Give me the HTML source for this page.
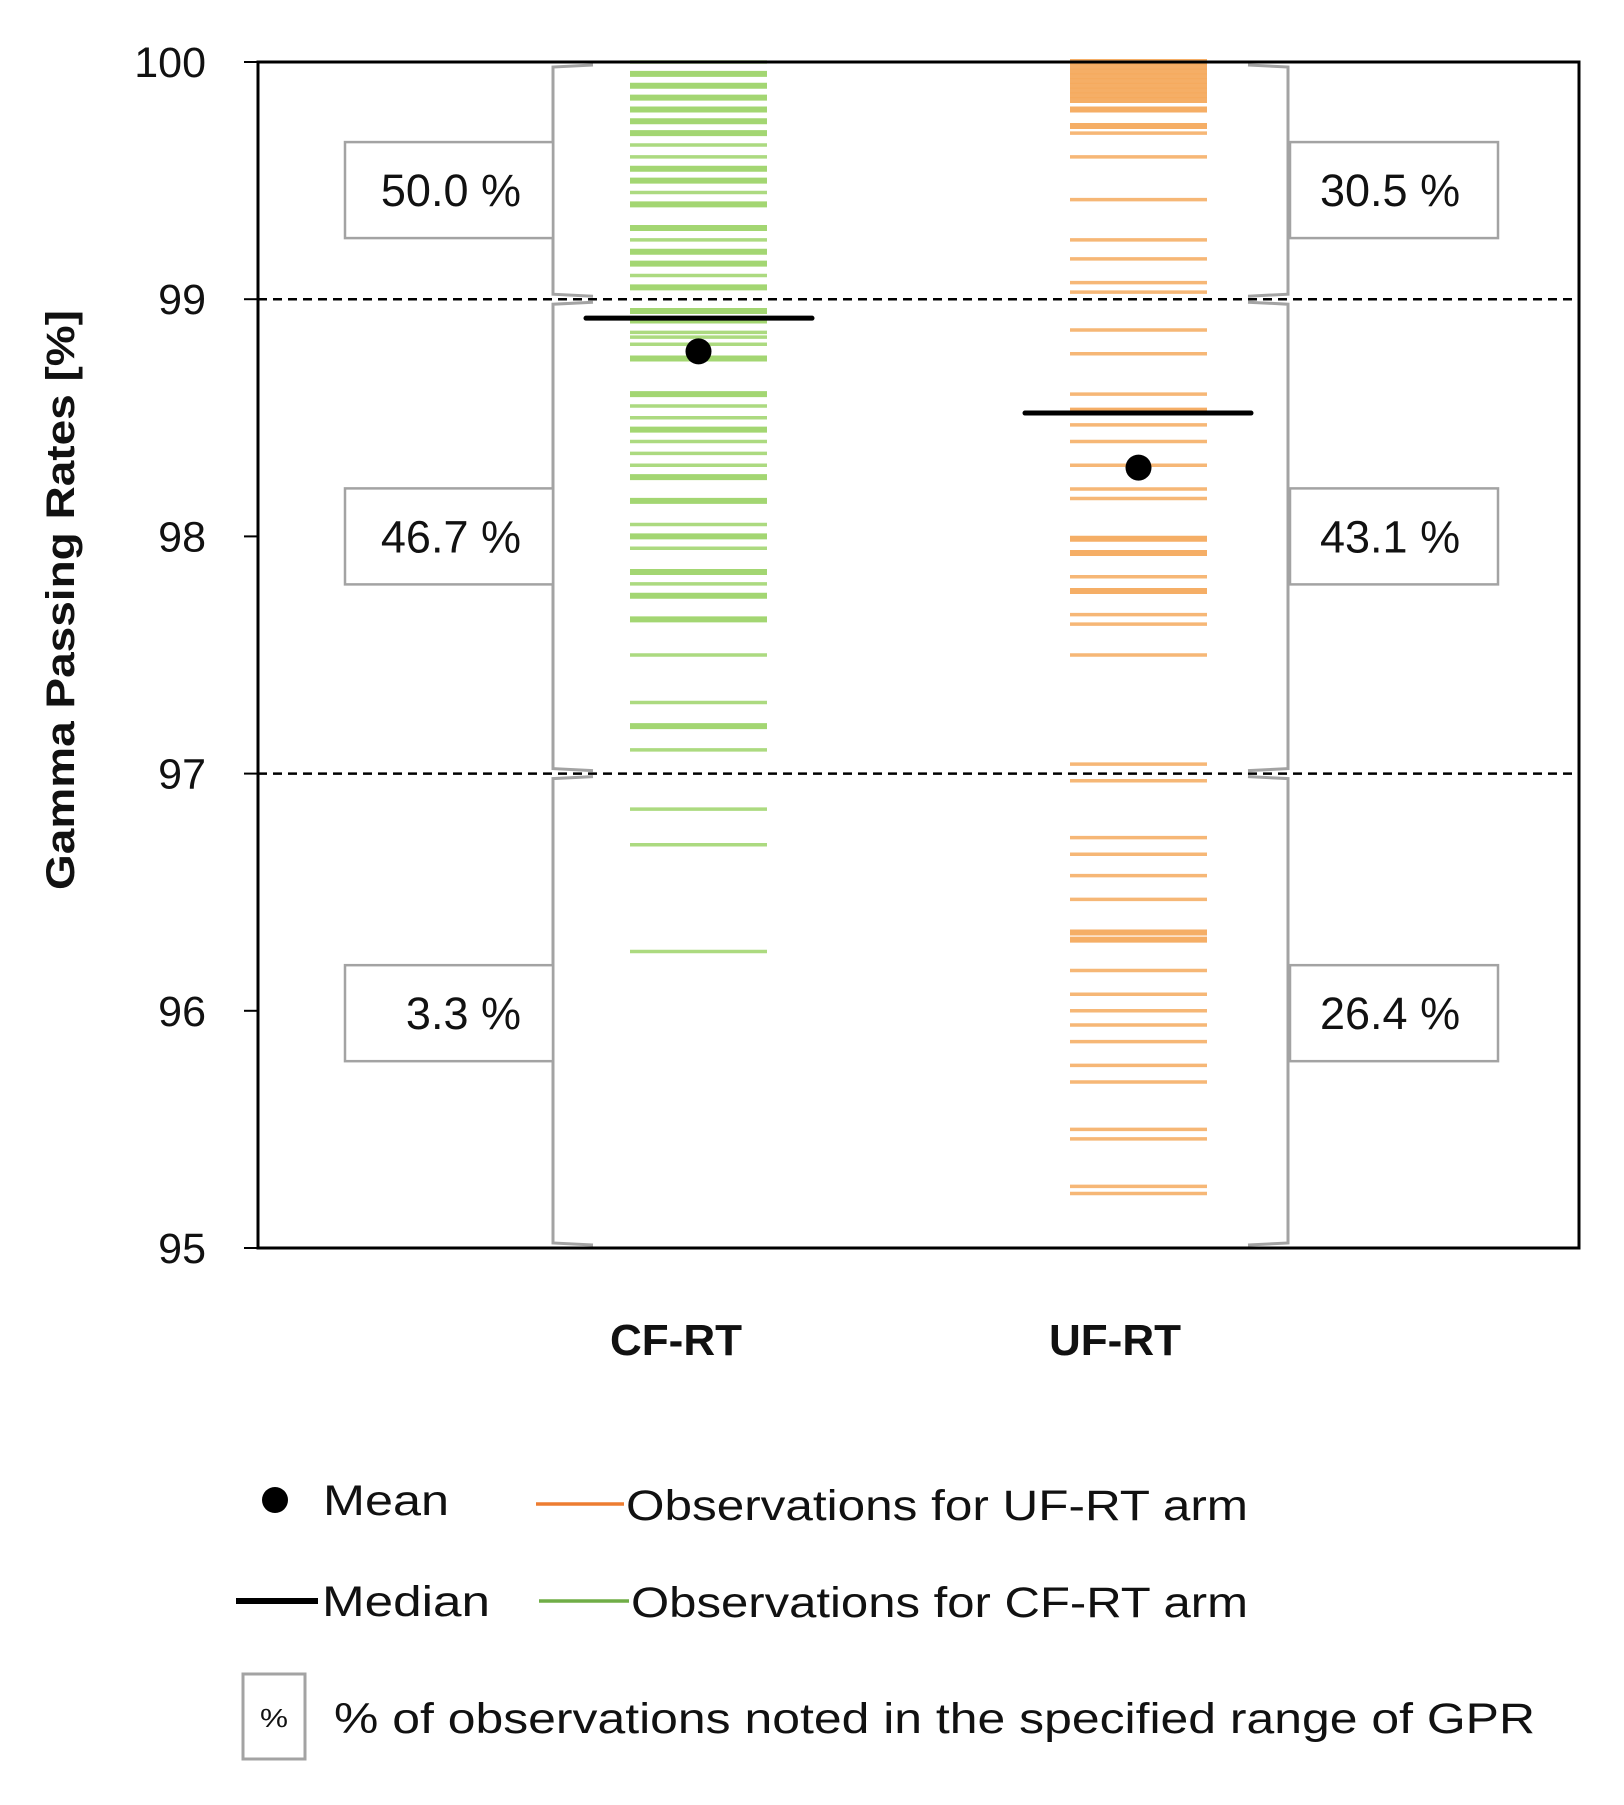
<!DOCTYPE html>
<html><head><meta charset="utf-8"><style>
html,body{margin:0;padding:0;background:#fff;}
svg{display:block;font-family:"Liberation Sans",sans-serif;}
</style></head><body>
<svg id="chart" width="1624" height="1805" viewBox="0 0 1624 1805" xmlns="http://www.w3.org/2000/svg">
<g id="plot"></g>
</svg>
<script>
const yTicks = [95, 96, 97, 98, 99, 100];
const categories = ["CF-RT", "UF-RT"];
const thresholds = [99, 97];
const cfValues = [100.00,99.95,99.90,99.85,99.80,99.75,99.70,99.65,99.60,99.55,99.50,99.45,99.40,99.30,99.25,99.20,99.15,99.10,99.05,98.95,98.91,98.86,98.84,98.81,98.75,98.60,98.55,98.50,98.45,98.40,98.35,98.30,98.25,98.15,98.05,98.00,97.95,97.85,97.80,97.75,97.65,97.50,97.30,97.20,97.10,96.85,96.70,96.25];
const cfCounts = [1,2,2,2,2,2,2,1,1,2,2,1,2,2,1,2,2,1,2,2,2,1,1,1,2,2,1,1,2,1,1,1,2,2,1,2,1,2,1,2,2,1,1,2,1,1,1,1];
const ufValues = [100.00,99.98,99.96,99.94,99.92,99.90,99.88,99.86,99.84,99.80,99.73,99.70,99.60,99.42,99.25,99.17,99.07,99.03,98.87,98.77,98.60,98.53,98.47,98.40,98.30,98.20,98.16,97.99,97.93,97.83,97.77,97.67,97.63,97.50,97.04,96.97,96.73,96.66,96.57,96.47,96.33,96.30,96.17,96.07,96.00,95.94,95.87,95.77,95.70,95.50,95.46,95.26,95.23];
const ufCounts = [2,2,2,2,2,2,2,2,2,2,2,1,1,1,1,1,1,1,1,1,1,2,1,1,1,1,1,2,2,1,2,1,1,1,1,1,1,1,1,1,2,2,1,1,1,1,1,1,1,1,1,1,1];
const means = [98.78, 98.29];
const medians = [98.92, 98.52];
const leftPercents = ["50.0 %", "46.7 %", "3.3 %"];
const rightPercents = ["30.5 %", "43.1 %", "26.4 %"];
const percentCenters = [99.46, 98, 95.99];

const NS = "http://www.w3.org/2000/svg";
const g = document.getElementById("plot");
const X0 = 258, X1 = 1579, Y100 = 62, Y95 = 1248;
function yScale(v){ return Y95 - (v - 95) * (Y95 - Y100) / 5; }
const colX = [[630, 767], [1070, 1207]];
const catCenter = [676, 1115];
function el(tag, attrs, parent){ const e = document.createElementNS(NS, tag); for (const k in attrs) e.setAttribute(k, attrs[k]); (parent||g).appendChild(e); return e; }

function bracket(x, dir, name){
  const b = el("g", {});
  
  
  const segs = [[100, 99], [99, 97], [97, 95]];
  segs.forEach(s => {
    const ya = yScale(s[0]) + 3, yb = yScale(s[1]) - 3;
    el("path", {d:`M${x+dir*40},${ya} L${x},${ya+2} L${x},${yb-2} L${x+dir*40},${yb}`, fill:"none", stroke:"#a3a3a3", "stroke-width":3}, b);
  });
}
bracket(553, 1, "cf-range-bracket");
bracket(1288, -1, "uf-range-bracket");

function pbox(x, w, label, v, alignRight, name){
  const grp = el("g", {});
  
  
  const yc = yScale(v);
  el("rect", {x:x, y:yc-48, width:w, height:96, fill:"#fff", stroke:"#a3a3a3", "stroke-width":2.5}, grp);
  const t = el("text", {x: alignRight ? x+w-32 : x+30, y: yc+16, "font-size":45, fill:"#111", "text-anchor": alignRight ? "end":"start"}, grp);
  t.textContent = label;
}
leftPercents.forEach((p,i)=>pbox(345, 208, p, percentCenters[i], true, "cf-percent-box-"+(i+1)));
rightPercents.forEach((p,i)=>pbox(1290, 208, p, percentCenters[i], false, "uf-percent-box-"+(i+1)));

function obs(values, counts, ci, color, name){
  values.forEach((v,i)=>{
    const y = yScale(v);
    const ln = el("line", {x1:colX[ci][0], x2:colX[ci][1], y1:y, y2:y, stroke:color, "stroke-width": counts[i] > 1 ? 6 : 3.5, "stroke-opacity": counts[i] > 1 ? 0.95 : 0.85});
    
    
  });
}
obs(cfValues, cfCounts, 0, "#9ed46a", "cf-observation");
obs(ufValues, ufCounts, 1, "#f4aa5e", "uf-observation");

thresholds.forEach(t=>{
  const ln = el("line", {x1:X0, x2:X1, y1:yScale(t), y2:yScale(t), stroke:"#000", "stroke-width":2.5, "stroke-dasharray":"9,6"});
  
  
});

medians.forEach((m,i)=>{
  const ln = el("line", {x1:catCenter[i]-90, x2:catCenter[i]+136, y1:yScale(m), y2:yScale(m), stroke:"#000", "stroke-width":5, "stroke-linecap":"round"});
  
  
});
means.forEach((m,i)=>{
  const c = el("circle", {cx:(colX[i][0]+colX[i][1])/2, cy:yScale(m), r:13, fill:"#000"});
  
  
});

const frame = el("rect", {x:X0, y:Y100, width:X1-X0, height:Y95-Y100, fill:"none", stroke:"#000", "stroke-width":3});


yTicks.forEach(t=>{
  const y = yScale(t);
  const tk = el("line", {x1:X0-14, x2:X0, y1:y, y2:y, stroke:"#000", "stroke-width":2});
  
  
  const lb = el("text", {x:206, y:y+15, "font-size":43, "text-anchor":"end", fill:"#111"});
  
  
  lb.textContent = t;
});
categories.forEach((c,i)=>{
  const lb = el("text", {x:catCenter[i], y:1355, "font-size":44, "font-weight":"bold", "text-anchor":"middle", fill:"#111"});
  
  
  lb.textContent = c;
});
const yt = el("text", {x:0, y:0, "font-size":40, "font-weight":"bold", "text-anchor":"middle", fill:"#111", transform:"translate(74,600) rotate(-90)", textLength:580, lengthAdjust:"spacingAndGlyphs"});


yt.textContent = "Gamma Passing Rates [%]";

const lg = el("g", {});


function ltext(x, y, w, s, name, size){
  const t = el("text", {x:x, y:y, "font-size":size||43, fill:"#111", textLength:w, lengthAdjust:"spacingAndGlyphs"}, lg);
  
  
  t.textContent = s;
}
const md = el("circle", {cx:275, cy:1500, r:13, fill:"#000"}, lg);


ltext(323, 1515, 126, "Mean", "legend-mean-label");
const ol = el("line", {x1:536, x2:624, y1:1504, y2:1504, stroke:"#ed7d31", "stroke-width":3.5}, lg);


ltext(626, 1520, 622, "Observations for UF-RT arm", "legend-uf-label");
const mdl = el("line", {x1:236, x2:318, y1:1601, y2:1601, stroke:"#000", "stroke-width":6}, lg);


ltext(322, 1616, 168, "Median", "legend-median-label");
const gl = el("line", {x1:539, x2:629, y1:1601, y2:1601, stroke:"#70ad47", "stroke-width":3.5}, lg);


ltext(631, 1617, 617, "Observations for CF-RT arm", "legend-cf-label");
const pb = el("rect", {x:243, y:1674, width:62, height:85, fill:"#fff", stroke:"#a3a3a3", "stroke-width":3}, lg);


ltext(260, 1727, 28, "%", "legend-percent-symbol", 26);
ltext(334, 1733, 1201, "% of observations noted in the specified range of GPR", "legend-percent-label");
</script>
</body></html>
